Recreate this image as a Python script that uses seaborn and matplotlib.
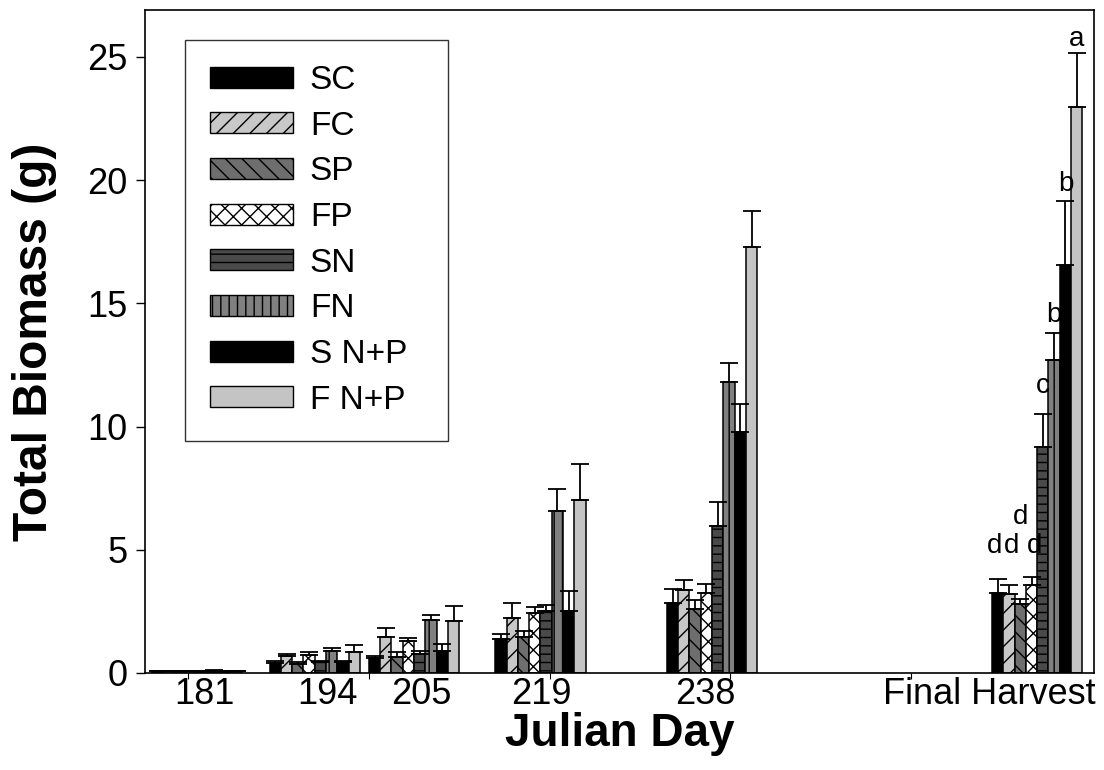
import numpy as np
import pandas as pd
import matplotlib
matplotlib.use("Agg")
import matplotlib.pyplot as plt
from matplotlib.patches import Patch
from matplotlib.ticker import FixedLocator
import seaborn as sns

# ---------------- data ----------------
days = [181, 194, 205, 219, 238, 274]
day_labels = ["181", "194", "205", "219", "238", "Final Harvest"]
treatments = ["SC", "FC", "SP", "FP", "SN", "FN", "S N+P", "F N+P"]

sc_mean  = [0.07, 0.40, 0.60, 1.38, 2.83, 3.25]
fc_mean  = [0.08, 0.68, 1.48, 2.22, 3.35, 3.20]
sp_mean  = [0.07, 0.38, 0.66, 1.45, 2.58, 2.80]
fp_mean  = [0.08, 0.73, 1.30, 2.45, 3.23, 3.55]
sn_mean  = [0.08, 0.45, 0.78, 2.53, 5.97, 9.15]
fn_mean  = [0.09, 0.88, 2.13, 6.59, 11.82, 12.70]
snp_mean = [0.07, 0.45, 0.90, 2.53, 9.77, 16.55]
fnp_mean = [0.07, 0.85, 2.10, 7.02, 17.30, 22.95]

sc_err  = [0.02, 0.08, 0.10, 0.22, 0.57, 0.55]
fc_err  = [0.02, 0.08, 0.33, 0.60, 0.43, 0.35]
sp_err  = [0.02, 0.05, 0.20, 0.27, 0.38, 0.20]
fp_err  = [0.02, 0.13, 0.10, 0.24, 0.40, 0.35]
sn_err  = [0.02, 0.05, 0.12, 0.23, 0.97, 1.35]
fn_err  = [0.02, 0.13, 0.23, 0.86, 0.76, 1.10]
snp_err = [0.02, 0.05, 0.27, 0.80, 1.16, 2.60]
fnp_err = [0.02, 0.27, 0.60, 1.46, 1.44, 2.20]

final_letters = ["d", "d", "d", "d", "c", "b", "b", "a"]

means = [sc_mean, fc_mean, sp_mean, fp_mean, sn_mean, fn_mean, snp_mean, fnp_mean]
errs = [sc_err, fc_err, sp_err, fp_err, sn_err, fn_err, snp_err, fnp_err]

rows = []
for t, m, e in zip(treatments, means, errs):
    for d, v, s in zip(days, m, e):
        rows.append({"day": d, "treatment": t, "biomass": v, "se": s})
df = pd.DataFrame(rows)

# ---------------- style ----------------
sns.set_style("ticks")
plt.rcParams["font.family"] = ["Liberation Sans", "DejaVu Sans"]
plt.rcParams["hatch.linewidth"] = 1.0
plt.rcParams["hatch.color"] = "black"
for k in ["text.color", "axes.labelcolor", "xtick.color", "ytick.color",
          "axes.edgecolor"]:
    plt.rcParams[k] = "black"

fills = {"SC": "#000000", "FC": "#c8c8c8", "SP": "#6e6e6e", "FP": "#ffffff",
         "SN": "#4a4a4a", "FN": "#808080", "S N+P": "#000000", "F N+P": "#c4c4c4"}
hatches = {"SC": "", "FC": "//", "SP": "\\\\", "FP": "xx",
           "SN": "--", "FN": "||", "S N+P": "", "F N+P": ""}

fig = plt.figure(figsize=(11.04, 7.70), dpi=100)
ax = fig.add_axes([0.1313, 0.126, 0.8597, 0.861])

sns.barplot(data=df, x="day", y="biomass", hue="treatment", hue_order=treatments,
            palette=fills, native_scale=True, width=10 / 11, gap=0, dodge=True,
            errorbar=None, edgecolor="black", linewidth=1.0, saturation=1,
            legend=False, ax=ax)

for t, cont in zip(treatments, ax.containers):
    for p in cont.patches:
        p.set_facecolor(fills[t])
        p.set_edgecolor("black")
        p.set_hatch(hatches[t])
        p.set_linewidth(1.1)

# layout of the significance letters (offset above cap, horizontal nudge in days)
letter_lift = [1.05, 1.30, 3.05, 0.95, 0.85, 0.45, 0.40, 0.30]
letter_nudge = [-0.3, 0.3, 0.0, 0.3, 0.0, 0.0, 0.0, 0.0]

for ti, (t, cont) in enumerate(zip(treatments, ax.containers)):
    ps = sorted(cont.patches, key=lambda p: p.get_x())
    xs = np.array([p.get_x() + p.get_width() / 2 for p in ps])
    ys = np.array([p.get_height() for p in ps])
    e = np.array(errs[ti])
    ax.errorbar(xs, ys, yerr=[np.zeros_like(e), e], fmt="none", ecolor="black",
                elinewidth=1.3, capsize=6.5, capthick=1.3, zorder=3)
    ax.text(xs[-1] + letter_nudge[ti], ys[-1] + e[-1] + letter_lift[ti],
            final_letters[ti], ha="center", va="baseline", fontsize=20)

ax.set_xlim(175.2, 280.3)
ax.set_ylim(0, 26.9)
ax.set_yticks([0, 5, 10, 15, 20, 25])
ax.tick_params(axis="y", labelsize=26, length=6.5, width=1, direction="out", pad=6)

label_pos = [181.8, 195.4, 205.8, 219.1, 237.3, 268.7]
ax.set_xticks(label_pos)
ax.set_xticklabels(day_labels)
ax.tick_params(axis="x", which="major", labelsize=26, length=0, pad=3)
ax.xaxis.set_minor_locator(FixedLocator([180, 200, 220, 240, 260]))
ax.tick_params(axis="x", which="minor", length=4, width=0.8, direction="out")

for s in ax.spines.values():
    s.set_visible(True)
    s.set_linewidth(1.2)
    s.set_color("black")

ax.set_xlabel("Julian Day", fontsize=33, fontweight="bold", labelpad=0)
ax.set_ylabel("Total Biomass (g)", fontsize=34.5, fontweight="bold", labelpad=22)

handles = [Patch(facecolor=fills[t], edgecolor="black", hatch=hatches[t], linewidth=1.0)
           for t in treatments]
leg = ax.legend(handles, treatments, loc="upper left",
                bbox_to_anchor=(0.042, 0.5, 0.277, 0.455), mode="expand",
                fontsize=24, frameon=True, fancybox=False, edgecolor="black",
                handlelength=2.5, handleheight=0.6, handletextpad=0.5,
                labelspacing=0.44, borderpad=0.75, borderaxespad=0)
leg.get_frame().set_linewidth(1.0)

fig.savefig("out.png", dpi=100)
